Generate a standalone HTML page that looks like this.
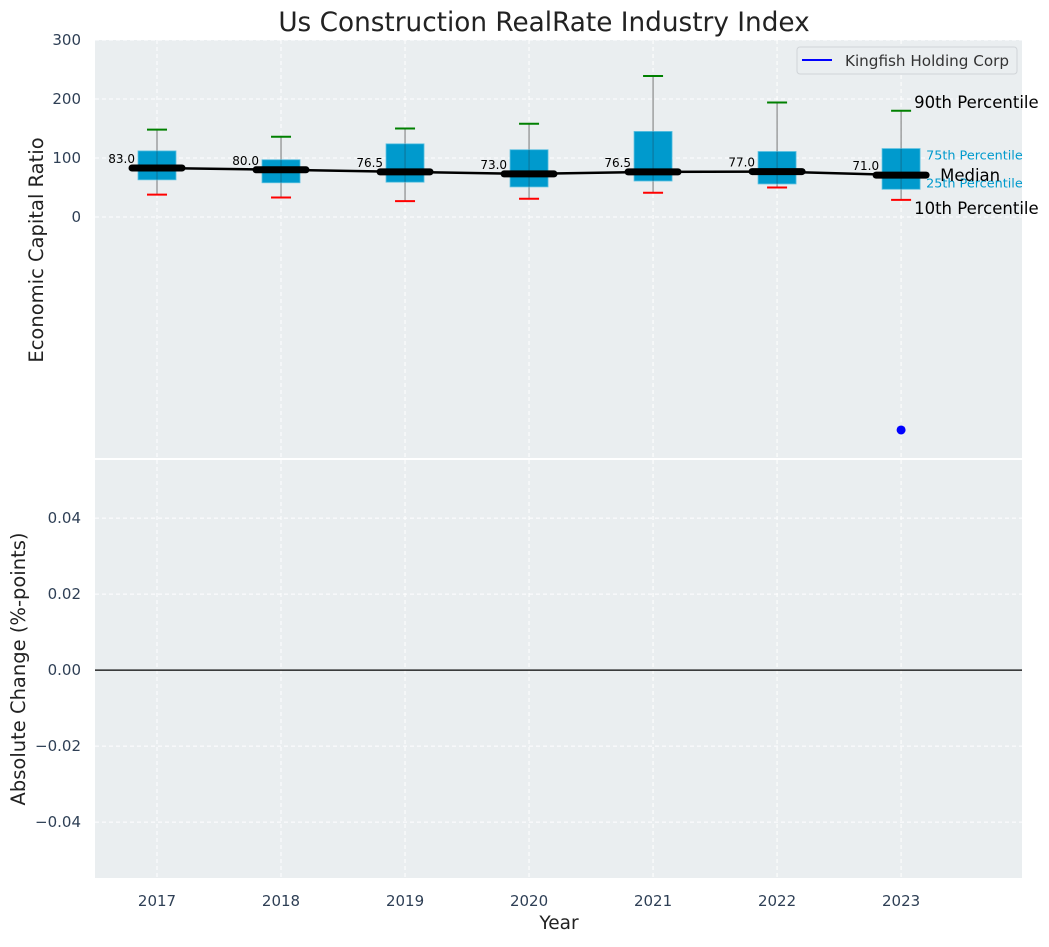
<!DOCTYPE html>
<html><head><meta charset="utf-8"><style>
body{margin:0;background:#fff;font-family:"Liberation Sans","DejaVu Sans",sans-serif}
svg text{font-family:"DejaVu Sans","Liberation Sans",sans-serif}
</style></head><body>
<svg id="chart" width="1049" height="942" xmlns="http://www.w3.org/2000/svg"></svg>
<script>
const years=[2017,2018,2019,2020,2021,2022,2023];
const p10=[38,33,27,31,41,50,29];
const q1=[63,58,59,51,61,56,47];
const medians=[83,80,76.5,73,76.5,77,71];
const q3=[112,97,124,114,145,111,116];
const p90=[148,136,150,158,239,194,180];
const companyYear=[2023];
const companyValue=[-361];
const topTicks=[0,100,200,300];
const botTicks=[-0.04,-0.02,0,0.02,0.04];
const changeValues=[];

const NS="http://www.w3.org/2000/svg";
const svg=document.getElementById('chart');
function el(t,a,p){const e=document.createElementNS(NS,t);for(const k in a)e.setAttribute(k,a[k]);(p||svg).appendChild(e);return e;}
const L=95,R=1022;
const XMIN=2016.5,XMAX=2023.975;
const xs=v=>L+(v-XMIN)/(XMAX-XMIN)*(R-L);
const T0=40,T1=458,B0=460,B1=878;
const yt=v=>T0+(300-v)/(300+408.5)*(T1-T0);
const yb=v=>B0+(0.0553-v)/(0.0553+0.0547)*(B1-B0);

let e=el('rect',{x:L,y:T0,width:R-L,height:T1-T0,fill:'#eaeef0'});

e=el('rect',{x:L,y:B0,width:R-L,height:B1-B0,fill:'#eaeef0'});


years.forEach(y=>{
 el('line',{x1:xs(y),x2:xs(y),y1:T0,y2:T1,stroke:'#fff','stroke-dasharray':'4,3','stroke-width':1});
 el('line',{x1:xs(y),x2:xs(y),y1:B0,y2:B1,stroke:'#fff','stroke-dasharray':'4,3','stroke-width':1});
 const t=el('text',{x:xs(y),y:906,'font-size':15,fill:'#2e3f55','text-anchor':'middle'});t.textContent=y;
 
});
topTicks.forEach(v=>{
 el('line',{x1:L,x2:R,y1:yt(v),y2:yt(v),stroke:'#fff','stroke-dasharray':'4,3'});
 const t=el('text',{x:81,y:yt(v)+5,'font-size':15,fill:'#2e3f55','text-anchor':'end'});t.textContent=v;
 
});
botTicks.forEach(v=>{
 el('line',{x1:L,x2:R,y1:yb(v),y2:yb(v),stroke:'#fff','stroke-dasharray':'4,3'});
 const t=el('text',{x:81,y:yb(v)+5,'font-size':15,fill:'#2e3f55','text-anchor':'end'});t.textContent=(v<0?'\u2212':'')+Math.abs(v).toFixed(2);
 
});
el('line',{x1:L,x2:R,y1:yb(0),y2:yb(0),stroke:'#000','stroke-width':1.2});

years.forEach((y,i)=>{
 const x=xs(y);
 const w=el('line',{x1:x,x2:x,y1:yt(p90[i]),y2:yt(p10[i]),stroke:'#777','stroke-width':1});
 
 const b=el('rect',{x:x-19,y:yt(q3[i]),width:38,height:yt(q1[i])-yt(q3[i]),fill:'#009acd',stroke:'#5bc0e0','stroke-width':0.8});
 
 el('line',{x1:x,x2:x,y1:yt(q3[i]),y2:yt(q1[i]),stroke:'#1a4a60','stroke-width':1,'stroke-opacity':0.5});
 const c1=el('line',{x1:x-10,x2:x+10,y1:yt(p90[i]),y2:yt(p90[i]),stroke:'#008000','stroke-width':2});
 
 const c2=el('line',{x1:x-10,x2:x+10,y1:yt(p10[i]),y2:yt(p10[i]),stroke:'#ff0000','stroke-width':2});
 
});
const pl=el('polyline',{points:years.map((y,i)=>xs(y)+','+yt(medians[i])).join(' '),fill:'none',stroke:'#000','stroke-width':2.5});

years.forEach((y,i)=>{
 const x=xs(y);
 const m=el('line',{x1:x-25,x2:x+25,y1:yt(medians[i]),y2:yt(medians[i]),stroke:'#000','stroke-width':7,'stroke-linecap':'round'});
 
 const t=el('text',{x:x-22,y:yt(medians[i])-5,'font-size':12,fill:'#000','text-anchor':'end'});t.textContent=medians[i].toFixed(1);
 
});
companyYear.forEach((y,i)=>{
 const d=el('circle',{cx:xs(y),cy:yt(companyValue[i]),r:4.5,fill:'#0000ff'});
 
});
const last=years.length-1,lx=xs(years[last]);
[[p90[last],'90th Percentile',16.5,'#000',13,-3],[q3[last],'75th Percentile',12.8,'#009acd',25,11],[q1[last],'25th Percentile',12.8,'#009acd',25,-2],[p10[last],'10th Percentile',16.5,'#000',13,14]].forEach(a=>{
 const t=el('text',{x:lx+a[4],y:yt(a[0])+a[5],'font-size':a[2],fill:a[3]});t.textContent=a[1];
 
});
e=el('text',{x:lx+39,y:yt(medians[last])+6,'font-size':16.5,fill:'#000'});e.textContent='Median';


const lg=el('g',{});
el('rect',{x:797,y:47,width:220,height:27,rx:3,fill:'#eaeef0',stroke:'#d0d4d8'},lg);
el('line',{x1:802,x2:832,y1:60,y2:60,stroke:'#0000ff','stroke-width':2},lg);
e=el('text',{x:845,y:66,'font-size':15.2,fill:'#333'},lg);e.textContent='Kingfish Holding Corp';

e=el('text',{x:544,y:31,'font-size':26.3,fill:'#222','text-anchor':'middle'});e.textContent='Us Construction RealRate Industry Index';

e=el('text',{x:0,y:0,'font-size':19.5,fill:'#222','text-anchor':'middle',transform:'translate(43,250) rotate(-90)'});e.textContent='Economic Capital Ratio';

e=el('text',{x:0,y:0,'font-size':19.5,fill:'#222','text-anchor':'middle',transform:'translate(25,669) rotate(-90)'});e.textContent='Absolute Change (%-points)';

e=el('text',{x:559,y:929,'font-size':18.5,fill:'#222','text-anchor':'middle'});e.textContent='Year';

</script>
</body></html>
